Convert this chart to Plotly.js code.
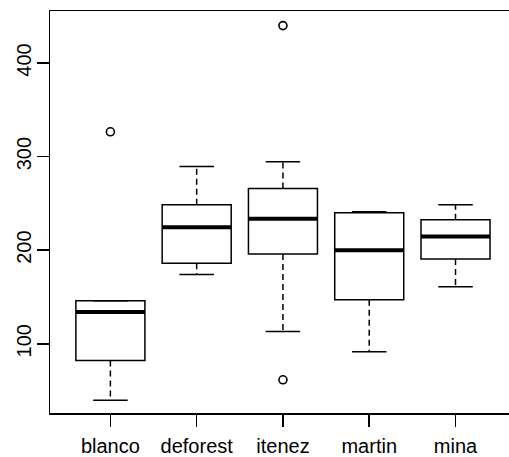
<!DOCTYPE html>
<html>
<head>
<meta charset="utf-8">
<script src="https://cdn.plot.ly/plotly-3.0.1.min.js"></script>
<style>html,body{margin:0;padding:0;overflow:hidden;background:#fff}</style>
</head>
<body>
<div id="chart" style="width:509px;height:457px"></div>
<script>
const categories = ['blanco', 'deforest', 'itenez', 'martin', 'mina'];
const lowerWhisker = [39.5, 174, 113, 91.5, 161];
const q1 = [82, 186, 196, 147, 190.5];
const median = [134, 224.5, 233.5, 200, 214.5];
const q3 = [146, 248.5, 266, 240, 232.5];
const upperWhisker = [146, 289.5, 294.5, 241, 248.5];
const outlierCategory = ['blanco', 'itenez', 'itenez'];
const outlierValue = [326.5, 440, 61.5];
const yTicks = [100, 200, 300, 400];

const pos = categories.map((c, i) => i);
const boxW = 0.8, capW = 0.4;

const wx = [], wy = [], cx = [], cy = [], mx = [], my = [];
pos.forEach((p, i) => {
  wx.push(p, p, null, p, p, null);
  wy.push(q3[i], upperWhisker[i], null, q1[i], lowerWhisker[i], null);
  cx.push(p - capW / 2, p + capW / 2, null, p - capW / 2, p + capW / 2, null);
  cy.push(upperWhisker[i], upperWhisker[i], null, lowerWhisker[i], lowerWhisker[i], null);
  mx.push(p - boxW / 2, p + boxW / 2, null);
  my.push(median[i], median[i], null);
});

const traces = [
  {
    type: 'box', x: pos, q1: q1, median: median, q3: q3,
    lowerfence: q1, upperfence: q3, width: boxW, whiskerwidth: 0,
    fillcolor: 'rgba(255,255,255,0)', line: {color: '#000', width: 1.5},
    hoverinfo: 'skip', showlegend: false
  },
  {type: 'scatter', mode: 'lines', x: wx, y: wy, line: {color: '#000', width: 1.5, dash: '6px,4px'}, showlegend: false, hoverinfo: 'skip'},
  {type: 'scatter', mode: 'lines', x: cx, y: cy, line: {color: '#000', width: 1.5}, showlegend: false, hoverinfo: 'skip'},
  {type: 'scatter', mode: 'lines', x: mx, y: my, line: {color: '#000', width: 4}, showlegend: false, hoverinfo: 'skip'},
  {
    type: 'scatter', mode: 'markers',
    x: outlierCategory.map(c => categories.indexOf(c)), y: outlierValue,
    marker: {symbol: 'circle-open', size: 8, color: '#000', line: {width: 1.6}},
    showlegend: false, hoverinfo: 'skip'
  }
];

const layout = {
  width: 509, height: 457,
  margin: {l: 50, r: 0, t: 11, b: 44},
  paper_bgcolor: '#fff', plot_bgcolor: '#fff',
  font: {family: 'Liberation Sans, Arial, sans-serif', size: 20, color: '#000'},
  xaxis: {
    range: [-0.7, 4.62], tickmode: 'array', tickvals: pos, ticktext: categories,
    showgrid: false, zeroline: false, showline: true, mirror: true,
    linecolor: '#000', linewidth: 1.5, ticks: 'outside', ticklen: 12,
    tickwidth: 1.5, tickcolor: '#000', tickfont: {size: 20}, ticklabelstandoff: 2
  },
  yaxis: {
    range: [26, 455.6], tickmode: 'array', tickvals: yTicks, ticktext: yTicks.map(String),
    showgrid: false, zeroline: false, showline: true,
    linecolor: '#000', linewidth: 1.5, ticks: 'outside', ticklen: 12,
    tickwidth: 1.5, tickcolor: '#000', tickangle: -90, tickfont: {size: 20}, ticklabelstandoff: -2
  }
};

Plotly.newPlot('chart', traces, layout, {displayModeBar: false, staticPlot: true});
</script>
</body>
</html>
